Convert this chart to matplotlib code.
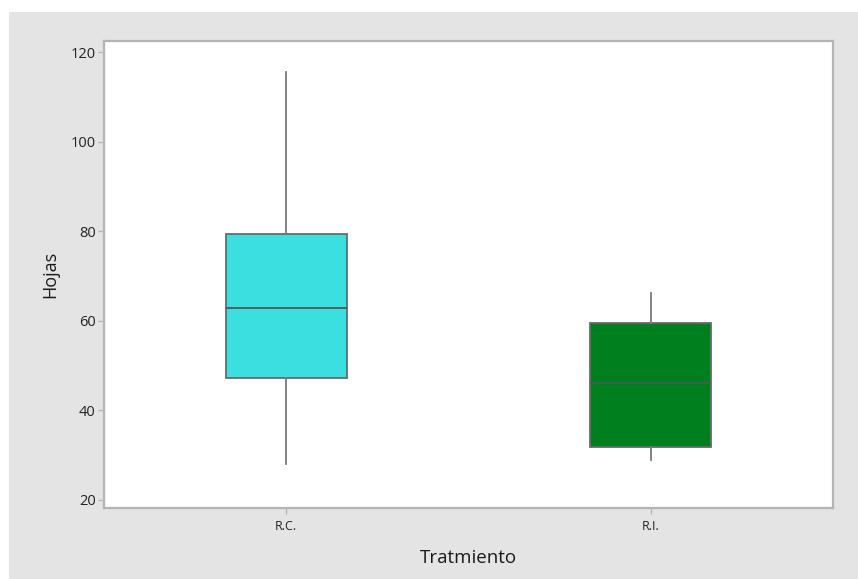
import matplotlib.pyplot as plt
from matplotlib.patches import Rectangle

# Hojas por tratamiento (resumen de cinco números)
tratamientos = ['R.C.', 'R.I.']
minimos = [28.0, 28.9]
q1 = [47.2, 31.9]
medianas = [62.8, 46.2]
q3 = [79.3, 59.5]
maximos = [115.5, 66.2]
colores = ['#3cdfe0', '#007f1f']

plt.rcParams['font.family'] = ['Open Sans', 'DejaVu Sans']

fig = plt.figure(figsize=(8.58, 5.79), dpi=100)
fig.patch.set_facecolor('white')
# panel gris de fondo
fig.patches.append(Rectangle((9 / 858, 0), 1, 1 - 12 / 579, transform=fig.transFigure,
                             facecolor='#e4e4e4', edgecolor='none', zorder=-1))

ax = fig.add_axes([104 / 858, 1 - 508 / 579, 729 / 858, 467 / 579])
ax.set_facecolor('white')

stats = []
for i, t in enumerate(tratamientos):
    stats.append({'label': t, 'whislo': minimos[i], 'q1': q1[i], 'med': medianas[i],
                  'q3': q3[i], 'whishi': maximos[i], 'fliers': []})

bp = ax.bxp(stats, positions=range(len(tratamientos)), widths=0.333, patch_artist=True,
            showcaps=False,
            boxprops=dict(edgecolor='#6a6a6a', linewidth=1.3),
            medianprops=dict(color='#555555', linewidth=1.3),
            whiskerprops=dict(color='#7a7a7a', linewidth=1.3))
for caja, c in zip(bp['boxes'], colores):
    caja.set_facecolor(c)

ax.set_xlim(-0.5, 1.5)
ax.set_ylim(18.2, 122.5)
ax.set_yticks([20, 40, 60, 80, 100, 120])

for s in ax.spines.values():
    s.set_color('#b4b4b4')
    s.set_linewidth(1.6)

ax.tick_params(axis='both', colors='#b4b4b4', length=4, width=1, labelcolor='#222222')
ax.tick_params(axis='y', labelsize=10.5, pad=2)
ax.tick_params(axis='x', labelsize=9, pad=5)

ax.set_xlabel('Tratmiento', fontsize=13.5, color='#1a1a1a', labelpad=11)
ax.set_ylabel('Hojas', fontsize=13, color='#1a1a1a', labelpad=8)

fig.savefig('out.png', dpi=100)
